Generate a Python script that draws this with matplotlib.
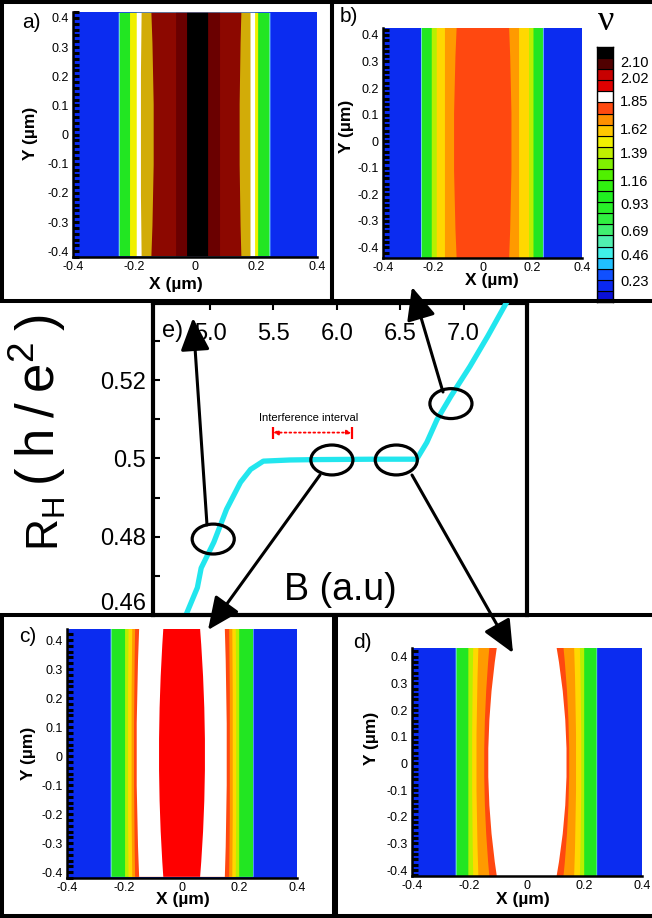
import matplotlib
matplotlib.use("Agg")
import matplotlib.pyplot as plt
import numpy as np
from matplotlib.patches import PathPatch, Ellipse, Rectangle, FancyArrowPatch
from matplotlib.path import Path
from matplotlib.transforms import Affine2D

plt.rcParams['font.family'] = ['Liberation Sans', 'DejaVu Sans']
plt.rcParams['mathtext.fontset'] = 'custom'
plt.rcParams['mathtext.rm'] = 'Liberation Sans'

# ---------------- DATA ----------------
# Panel e : Hall resistance vs magnetic field
B_field = [4.81, 4.90, 4.93, 5.03, 5.13, 5.24, 5.32, 5.42, 5.63, 5.84, 6.30, 6.63,
           6.71, 6.79, 6.90, 7.05, 7.19, 7.35]
R_hall = [0.4600, 0.4670, 0.4720, 0.4786, 0.4870, 0.4939, 0.4972, 0.4993, 0.4996,
          0.4997, 0.4998, 0.4998, 0.5041, 0.5099, 0.5159, 0.5235, 0.5312, 0.5405]
e_xticks = [5.0, 5.5, 6.0, 6.5, 7.0]
e_xticklabels = ['5.0', '5.5', '6.0', '6.5', '7.0']
e_yticks = [0.46, 0.48, 0.50, 0.52]
e_yticklabels = ['0.46', '0.48', '0.5', '0.52']
e_yminor = [0.47, 0.49, 0.51, 0.53]
circle_B = [5.025, 5.961, 6.469, 6.900]
circle_R = [0.4794, 0.4996, 0.4996, 0.5140]
interval_B = [5.497, 6.118]
interval_R = 0.5066

# colour names
BLUE = '#0b2cf0'; CYAN = '#86e4ff'; GREEN = '#22e622'; YGREEN = '#b8f000'
YELLOW = '#ffd800'; ORANGE = '#ff9a00'; OREDR = '#ff4810'; WHITE = '#ffffff'
RED = '#ff0000'; GOLD = '#d2ac08'; DRED = '#8c0800'; DDRED = '#6a0000'; BLACK = '#000000'

# Filling-factor maps: nested bands (outermost first); boundary x at plot edge and at y=0
a_colors = [CYAN, GREEN, '#f0f000', WHITE, GOLD, DRED, DDRED, BLACK]
a_left_edge = [-0.250, -0.247, -0.213, -0.191, -0.175, -0.143, -0.062, -0.026]
a_left_mid = [-0.250, -0.247, -0.213, -0.191, -0.178, -0.135, -0.062, -0.026]
a_right_edge = [0.247, 0.244, 0.207, 0.197, 0.182, 0.152, 0.082, 0.043]
a_right_mid = [0.247, 0.244, 0.207, 0.197, 0.182, 0.146, 0.082, 0.043]

b_colors = [CYAN, GREEN, YGREEN, YELLOW, ORANGE, OREDR]
b_left_edge = [-0.247, -0.244, -0.204, -0.184, -0.151, -0.104]
b_left_mid = [-0.247, -0.244, -0.204, -0.184, -0.151, -0.115]
b_right_edge = [0.246, 0.243, 0.205, 0.187, 0.147, 0.107]
b_right_mid = [0.246, 0.243, 0.205, 0.187, 0.147, 0.117]

c_colors = [CYAN, GREEN, YGREEN, YELLOW, ORANGE, OREDR, WHITE, RED]
c_left_edge = [-0.247, -0.244, -0.197, -0.185, -0.172, -0.162, -0.148, -0.064]
c_left_mid = [-0.247, -0.244, -0.197, -0.187, -0.175, -0.166, -0.157, -0.079]
c_right_edge = [0.250, 0.248, 0.200, 0.188, 0.176, 0.165, 0.150, 0.064]
c_right_mid = [0.250, 0.248, 0.200, 0.190, 0.178, 0.168, 0.157, 0.081]

d_colors = [CYAN, GREEN, YGREEN, YELLOW, ORANGE, OREDR, WHITE]
d_left_edge = [-0.247, -0.244, -0.203, -0.186, -0.168, -0.130, -0.104]
d_left_mid = [-0.247, -0.244, -0.203, -0.190, -0.175, -0.148, -0.134]
d_right_edge = [0.245, 0.243, 0.200, 0.185, 0.165, 0.128, 0.104]
d_right_mid = [0.245, 0.243, 0.200, 0.190, 0.172, 0.148, 0.139]

map_xticks = [-0.4, -0.2, 0, 0.2, 0.4]
map_xticklabels = ['-0.4', '-0.2', '0', '0.2', '0.4']
map_yticks = [-0.4, -0.3, -0.2, -0.1, 0, 0.1, 0.2, 0.3, 0.4]
map_yticklabels = ['-0.4', '-0.3', '-0.2', '-0.1', '0', '0.1', '0.2', '0.3', '0.4']

# Colour legend (bottom -> top)
cb_colors = ['#0a10d8', '#0a28f0', '#1050ff', '#20c0ff', '#40f0e8', '#50f0b0', '#40f070',
             '#30f040', '#28f028', '#20f020', '#30f010', '#50f000', '#80f000', '#c0f000',
             '#f0f000', '#ffc800', '#ff9000', '#ff4a10', '#ffffff', '#e00000', '#c80000',
             '#500000', '#000000']
cb_labels = ['0.23', '0.46', '0.69', '0.93', '1.16', '1.39', '1.62', '1.85', '2.02', '2.10']
cb_label_pos = [1.98, 4.24, 6.49, 8.84, 11.0, 13.44, 15.69, 18.21, 20.26, 21.67]

# ---------------- FIGURE ----------------
W, H = 652, 918
fig = plt.figure(figsize=(W / 100, H / 100), dpi=100)
PX = Affine2D().scale(1 / W, -1 / H).translate(0, 1) + fig.transFigure


def px_axes(x0, y0, x1, y1):
    return fig.add_axes([x0 / W, 1 - y1 / H, (x1 - x0) / W, (y1 - y0) / H])


def band_patch(xl_e, xl_m, xr_e, xr_m, y0, y1, color):
    verts = [(xl_e, y0), (2 * xl_m - xl_e, 0.0), (xl_e, y1), (xr_e, y1),
             (2 * xr_m - xr_e, 0.0), (xr_e, y0), (xl_e, y0)]
    codes = [Path.MOVETO, Path.CURVE3, Path.CURVE3, Path.LINETO,
             Path.CURVE3, Path.CURVE3, Path.CLOSEPOLY]
    return PathPatch(Path(verts, codes), facecolor=color, edgecolor='none', lw=0)


def draw_map(box, ylim, colors, le, lm, re, rm, xlab_pos, ylab_pos):
    ax = px_axes(*box)
    ax.set_xlim(-0.4, 0.4)
    ax.set_ylim(*ylim)
    ax.set_facecolor(BLUE)
    for c, a1, a2, b1, b2 in zip(colors, le, lm, re, rm):
        ax.add_patch(band_patch(a1, a2, b1, b2, ylim[0], ylim[1], c))
    for s in ['top', 'right']:
        ax.spines[s].set_visible(False)
    for s in ['left', 'bottom']:
        ax.spines[s].set_linewidth(1.8)
    ax.set_xticks(map_xticks, map_xticklabels)
    ax.set_yticks(map_yticks, map_yticklabels)
    ax.set_yticks(np.arange(-0.42, 0.43, 0.02), minor=True)
    ax.tick_params(axis='x', length=0, labelsize=9, pad=3)
    ax.tick_params(axis='y', which='both', direction='in', length=4.5, width=2.2,
                   labelsize=9, pad=3)
    ax.set_xlabel('X (µm)', fontsize=12.5, fontweight='bold')
    ax.set_ylabel('Y (µm)', fontsize=12.5, fontweight='bold')
    ax.xaxis.set_label_coords(*xlab_pos)
    ax.yaxis.set_label_coords(*ylab_pos)
    ax.xaxis.label.set_va('center')
    ax.yaxis.label.set_va('center')
    return ax


draw_map((73, 12, 317, 257), (-0.417, 0.417), a_colors, a_left_edge, a_left_mid,
         a_right_edge, a_right_mid, (0.42, -0.114), (-0.176, 0.506))
draw_map((383, 28, 582, 258), (-0.44, 0.426), b_colors, b_left_edge, b_left_mid,
         b_right_edge, b_right_mid, (0.546, -0.096), (-0.182, 0.571))
draw_map((66.7, 629, 296.7, 878), (-0.416, 0.438), c_colors, c_left_edge, c_left_mid,
         c_right_edge, c_right_mid, (0.507, -0.088), (-0.168, 0.502))
draw_map((411.7, 647.7, 641.7, 876), (-0.4225, 0.434), d_colors, d_left_edge, d_left_mid,
         d_right_edge, d_right_mid, (0.482, -0.105), (-0.174, 0.604))

# colour legend
ax_cb = px_axes(597, 47, 613, 302)
for i, c in enumerate(cb_colors):
    ax_cb.bar(0, 1, bottom=i, width=1, color=c, edgecolor='black', lw=0.8)
ax_cb.set_xlim(-0.5, 0.5)
ax_cb.set_ylim(0, len(cb_colors))
ax_cb.set_xticks([])
ax_cb.yaxis.tick_right()
ax_cb.set_yticks(cb_label_pos, cb_labels)
ax_cb.tick_params(axis='y', length=0, labelsize=10.5, pad=5)
for s in ax_cb.spines.values():
    s.set_linewidth(1)
fig.text(606 / W, 1 - 22 / H, 'ν', fontsize=26, family='Liberation Serif',
         ha='center', va='center')

# panel e
ax_e = px_axes(153, 303, 527, 615)
ax_e.plot(B_field, R_hall, color='#22e6ee', lw=3.8, solid_capstyle='butt', zorder=3)
ax_e.set_xlim(4.55, 7.50)
ax_e.set_ylim(0.46, 0.5397)
for s in ax_e.spines.values():
    s.set_linewidth(3)
ax_e.xaxis.tick_top()
ax_e.set_xticks(e_xticks, e_xticklabels)
ax_e.tick_params(axis='x', direction='in', length=5, width=1.5, labelsize=17, pad=-30)
ax_e.set_yticks(e_yticks, e_yticklabels)
ax_e.set_yticks(e_yminor, minor=True)
ax_e.tick_params(axis='y', which='both', direction='in', length=5, width=1.5,
                 labelsize=17, pad=5)
ax_e.yaxis.get_major_ticks()[0].label1.set_va('bottom')
ax_e.xaxis.set_label_position('bottom')
ax_e.set_xlabel('B (a.u)', fontsize=27)
ax_e.xaxis.set_label_coords(0.5, 0.08)
ax_e.xaxis.label.set_va('center')
# y-axis title, R_H part and unit part
fig.text(47 / W, 1 - 524 / H, r'R$_\mathregular{H}$', fontsize=32, rotation=90,
         ha='center', va='center')
fig.text(37 / W, 1 - 400 / H, '(\u2009h\u2009/\u2009e$^\\mathregular{2}$\u2009)',
         fontsize=38, rotation=90, ha='center', va='center')
for bx, ry in zip(circle_B, circle_R):
    ax_e.add_patch(Ellipse((bx, ry), 0.332, 0.00764, facecolor='none',
                           edgecolor='black', lw=2.3, zorder=5, clip_on=False))
ax_e.annotate('', xy=(interval_B[1], interval_R), xytext=(interval_B[0], interval_R),
              arrowprops=dict(arrowstyle='<|-|>', color='red', ls=':', lw=1.3,
                              mutation_scale=7, shrinkA=0, shrinkB=0))
ax_e.plot(interval_B, [interval_R, interval_R], ls='none', marker='|', ms=8,
          mew=1.6, color='red')
ax_e.text(np.mean(interval_B) - 0.03, interval_R + 0.0038, 'Interference interval',
          fontsize=8, ha='center', va='center')

# panel labels
for lab, (x, y), fs in [('a)', (31, 23), 15), ('b)', (349, 17), 15), ('c)', (28, 637), 15),
                        ('d)', (362, 642), 15), ('e)', (173, 331), 17)]:
    fig.text(x / W, 1 - y / H, lab, fontsize=fs, ha='center', va='center')

# panel frames
for (x0, y0, x1, y1) in [(2, 2, 332, 301), (332, 2, 655, 301), (2, 615, 334, 916),
                         (336, 615, 655, 916)]:
    fig.add_artist(Rectangle((x0, y0), x1 - x0, y1 - y0, transform=PX, fill=False,
                             edgecolor='black', lw=2.9, zorder=15))

# arrows linking curve points to maps
for (xa, ya), (xb, yb) in [((207, 525), (193, 318)), ((443, 392), (412, 287)),
                           ((320, 475), (208, 630)), ((412, 475), (513, 653))]:
    fig.add_artist(FancyArrowPatch((xa, ya), (xb, yb), transform=PX,
                                   arrowstyle='-|>,head_length=1.0,head_width=0.45',
                                   mutation_scale=20, lw=2.2, color='black',
                                   shrinkA=0, shrinkB=0, zorder=20))

fig.savefig('out.png', dpi=100)
